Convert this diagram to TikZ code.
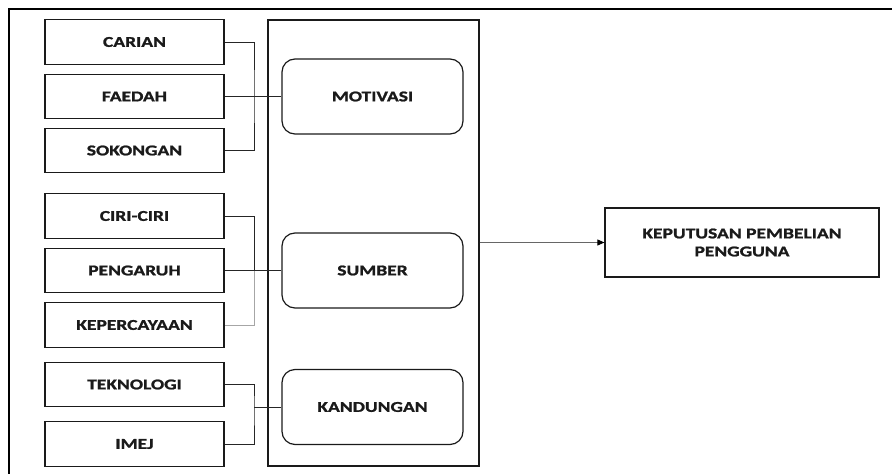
\documentclass[tikz,border=0pt]{standalone}
\usepackage{fontspec}
\newfontfamily\boxfont[FakeStretch=1.3, BoldFeatures={FakeBold=1.3}]{Carlito}
\usetikzlibrary{arrows.meta}
\definecolor{ink}{HTML}{1A1A1A}
\definecolor{wire}{HTML}{262626}
\tikzset{
  leftbox/.style={draw=ink, line width=1.2pt, minimum width=179pt, minimum height=44.5pt, inner sep=0pt,
    font=\boxfont\fontsize{15}{18}\selectfont\bfseries, text=ink},
  roundbox/.style={draw=ink, line width=1.2pt, rounded corners=13pt, minimum width=181pt, minimum height=75pt, inner sep=0pt,
    font=\boxfont\fontsize{15}{18}\selectfont\bfseries, text=ink},
  wirestyle/.style={draw=wire, line width=0.9pt},
}
\begin{document}
\begin{tikzpicture}[x=1pt,y=-1pt]
\useasboundingbox (0,0) rectangle (892,474);
\begin{scope}
\clip (0,0) rectangle (892,474);
\draw[line width=1.4pt, black] (9,490) -- (9,9) -- (910,9);
\end{scope}

% middle frame
\node[draw=ink, line width=1.2pt, minimum width=211pt, minimum height=446pt, inner sep=0pt] (mid) at (373.5,243) {};

% left boxes
\node[leftbox] (carian) at (134.5,42) {CARIAN};
\node[leftbox] (faedah) at (134.5,96.5) {FAEDAH};
\node[leftbox] (sokongan) at (134.5,150.5) {SOKONGAN};
\node[leftbox] (ciri) at (134.5,216) {CIRI-CIRI};
\node[leftbox] (pengaruh) at (134.5,270.5) {PENGARUH};
\node[leftbox] (kepercayaan) at (134.5,325) {KEPERCAYAAN};
\node[leftbox] (teknologi) at (134.5,384.5) {TEKNOLOGI};
\node[leftbox] (imej) at (134.5,444) {IMEJ};

% rounded boxes
\node[roundbox] (motivasi) at (372.5,96.5) {MOTIVASI};
\node[roundbox] (sumber) at (372.5,270.5) {SUMBER};
\node[roundbox] (kandungan) at (372.5,407) {KANDUNGAN};

% final box
\node[draw=ink, line width=1.2pt, minimum width=274pt, minimum height=69pt, inner sep=0pt, align=center,
  font=\boxfont\fontsize{15}{18}\selectfont\bfseries, text=ink] (final) at (742,242.5)
  {KEPUTUSAN PEMBELIAN\\PENGGUNA};

% bus coordinates
\coordinate (busA) at (254,96.5);
\coordinate (busB) at (254,270.5);
\coordinate (busC) at (254,407);

% connectors group 1
\draw[wirestyle] (carian.east) -| (busA) |- (sokongan.east);
\draw[wirestyle] (faedah.east) -- (motivasi.west);
% group 2
\draw[wirestyle] (ciri.east) -| (busB);
\draw[draw=gray!70, line width=0.9pt] (busB) |- (kepercayaan.east);
\draw[wirestyle] (pengaruh.east) -- (sumber.west);
% group 3
\draw[wirestyle] (teknologi.east) -| (busC) |- (imej.east);
\draw[wirestyle] (busC) -- (kandungan.west);

% arrow
\draw[draw=gray!80!black, line width=0.8pt, -{Triangle[length=7pt,width=6pt,color=black]}] (mid.east |- final.west) -- (final.west);
\end{tikzpicture}
\end{document}
